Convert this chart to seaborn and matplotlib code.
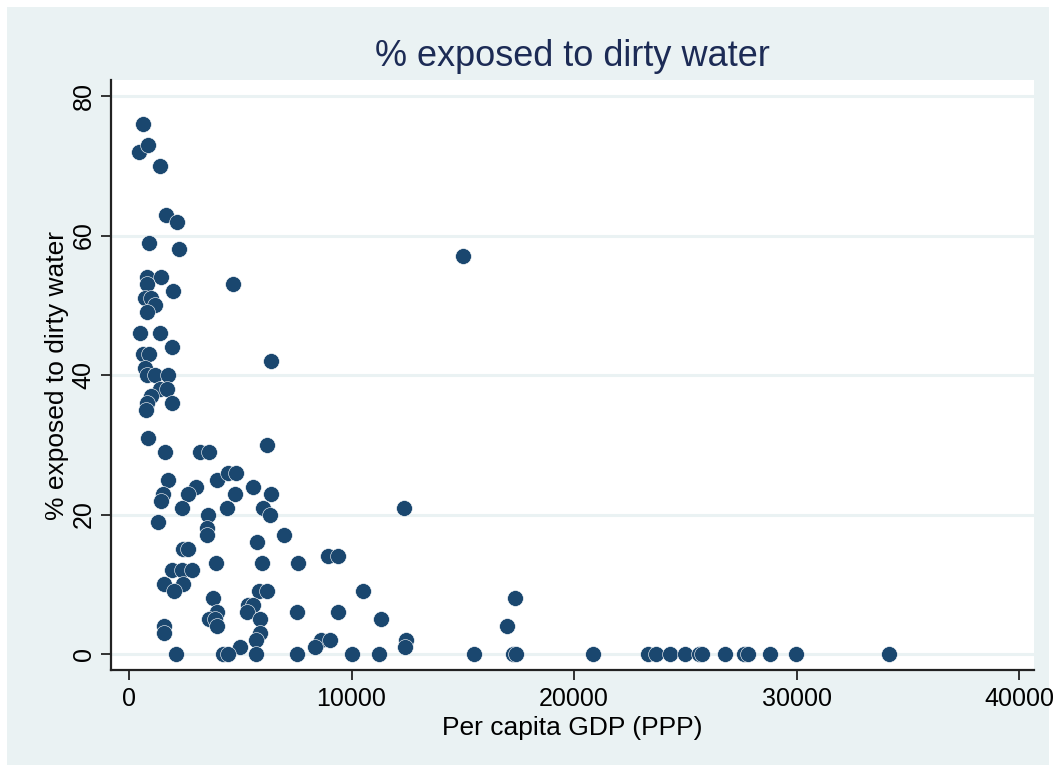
import matplotlib
matplotlib.use("Agg")
import matplotlib.pyplot as plt
from matplotlib.patches import Rectangle
import seaborn as sns
import pandas as pd

gdp = [629, 450, 854, 1393, 1663, 2157, 899, 2247, 15010, 809,
       1438, 809, 4674, 1977, 719, 989, 1169, 809, 494, 1393,
       1933, 629, 899, 6382, 719, 809, 1169, 1753, 1393, 1708,
       989, 809, 1933, 764, 854, 6202, 1618, 3191, 3595, 1753,
       3955, 4449, 4809, 5573, 3011, 2651, 1528, 4764, 6382, 1438,
       2382, 4404, 6022, 12359, 3550, 6337, 1303, 3505, 3505, 6966,
       5753, 2427, 2651, 8943, 9392, 3910, 5977, 7595, 1933, 2382,
       2831, 1573, 2427, 2022, 5843, 6202, 10516, 3775, 17347, 5348,
       5573, 5303, 3955, 7550, 9392, 3595, 3865, 5887, 11325, 3955,
       1573, 16988, 5887, 1573, 5708, 8629, 9033, 12449, 4989, 8359,
       12404,
       2112, 4224, 4449, 5708, 7550, 10022, 11235, 15505, 17257, 17392,
       20853, 23325, 23685, 24314, 24988, 25617, 25752, 26786, 27640, 27820,
       28808, 29977, 34156]
dirty = [76, 72, 73, 70, 63, 62, 59, 58, 57, 54,
         54, 53, 53, 52, 51, 51, 50, 49, 46, 46,
         44, 43, 43, 42, 41, 40, 40, 40, 38, 38,
         37, 36, 36, 35, 31, 30, 29, 29, 29, 25,
         25, 26, 26, 24, 24, 23, 23, 23, 23, 22,
         21, 21, 21, 21, 20, 20, 19, 18, 17, 17,
         16, 15, 15, 14, 14, 13, 13, 13, 12, 12,
         12, 10, 10, 9, 9, 9, 9, 8, 8, 7,
         7, 6, 6, 6, 6, 5, 5, 5, 5, 4,
         4, 4, 3, 3, 2, 2, 2, 2, 1, 1,
         1,
         0, 0, 0, 0, 0, 0, 0, 0, 0, 0,
         0, 0, 0, 0, 0, 0, 0, 0, 0, 0,
         0, 0, 0]

x_ticks = [0, 10000, 20000, 30000, 40000]
y_ticks = [0, 20, 40, 60, 80]
title = "% exposed to dirty water"
x_label = "Per capita GDP (PPP)"
y_label = "% exposed to dirty water"

df = pd.DataFrame({"gdp": gdp, "dirty": dirty})

sns.set_style("white")
plt.rcParams["font.family"] = ["Liberation Sans", "DejaVu Sans"]

W, H = 1056, 772
fig = plt.figure(figsize=(W / 100, H / 100), dpi=100, facecolor="white")
bg = "#EAF2F3"
fig.patches.append(Rectangle((7 / W, 7 / H), (W - 14) / W, (H - 14) / H,
                             transform=fig.transFigure, facecolor=bg,
                             edgecolor="none", zorder=-10))

ax = fig.add_axes([111 / W, 1 - 670 / H, (1034 - 111) / W, (670 - 80) / H])
ax.set_facecolor("white")

for yv in y_ticks:
    ax.axhline(yv, color=bg, lw=2.2, zorder=0)

sns.scatterplot(data=df, x="gdp", y="dirty", ax=ax, color="#1A476F",
                s=130, edgecolor="white", linewidth=0.4, zorder=3, legend=False)

ax.set_xlim(-809, 40674)
ax.set_ylim(-2.29, 82.3)
ax.set_xticks(x_ticks)
ax.set_xticklabels([str(v) for v in x_ticks])
ax.set_yticks(y_ticks)
ax.set_yticklabels([str(v) for v in y_ticks], rotation=90, va="center")

for s in ["top", "right"]:
    ax.spines[s].set_visible(False)
for s in ["left", "bottom"]:
    ax.spines[s].set_color("#222222")
    ax.spines[s].set_linewidth(1.6)

ax.tick_params(axis="both", which="both", direction="out", length=7, width=1.3,
               color="#222222", labelsize=18, labelcolor="black", pad=5,
               bottom=True, left=True)
ax.tick_params(axis="y", pad=4)

ax.set_xlabel(x_label, fontsize=19, color="black", labelpad=4)
ax.set_ylabel(y_label, fontsize=19, color="black", labelpad=2)
ax.set_title(title, fontsize=26, color="#1C2B55", pad=10)

fig.savefig("out.png", dpi=100, facecolor="white")
